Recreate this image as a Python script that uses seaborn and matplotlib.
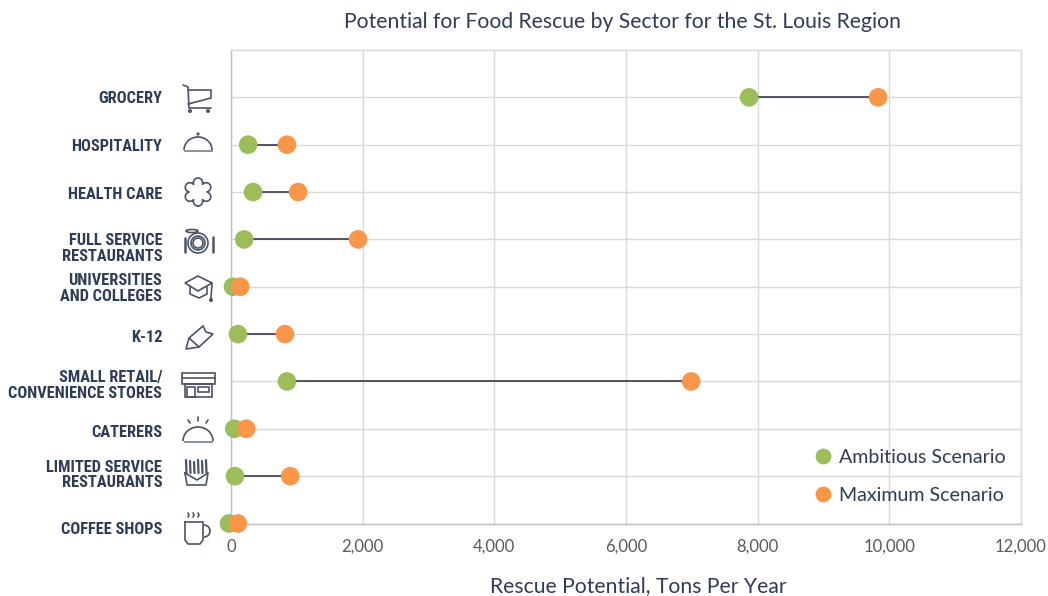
import numpy as np
import pandas as pd
import seaborn as sns
import matplotlib
matplotlib.use("Agg")
import matplotlib.pyplot as plt
from matplotlib import font_manager as fm
from matplotlib.patches import Arc, Circle, Polygon, Rectangle, Ellipse
from matplotlib.transforms import ScaledTranslation

sectors = ["GROCERY", "HOSPITALITY", "HEALTH CARE", "FULL SERVICE\nRESTAURANTS",
           "UNIVERSITIES\nAND COLLEGES", "K-12", "SMALL RETAIL/\nCONVENIENCE STORES",
           "CATERERS", "LIMITED SERVICE\nRESTAURANTS", "COFFEE SHOPS"]
ambitious = [7870, 260, 335, 200, 30, 105, 850, 50, 60, -30]
maximum = [9830, 850, 1020, 1930, 140, 820, 6990, 230, 900, 105]
label_shift_px = [0, 0, 1, 7, 0, 2, 2, 2, -3, 4]

GREEN, ORANGE = "#9BBD5A", "#F9964A"
NAVY, GREY, ICON = "#2D3C58", "#595959", "#4A5468"

names = {f.name for f in fm.fontManager.ttflist}
narrow, narrow_size = "Roboto", 10.3
for cand, size in (("Roboto Condensed", 11.8), ("Liberation Sans Narrow", 11.8)):
    if cand in names:
        narrow, narrow_size = cand, size
        break

sns.set_theme(style="whitegrid")
plt.rcParams["font.family"] = ["Lato", "DejaVu Sans"]

df = pd.DataFrame({"sector": sectors, "Ambitious Scenario": ambitious, "Maximum Scenario": maximum})
long = df.melt("sector", var_name="scenario", value_name="tons")

W, H = 1048, 596
fig = plt.figure(figsize=(W / 100, H / 100), dpi=100)
ax = fig.add_axes([231 / W, 1 - 523.5 / H, 790 / W, 473.5 / H])

ax.hlines(df["sector"], df["Ambitious Scenario"], df["Maximum Scenario"],
          color="#2A2A3E", lw=1.1, zorder=2)
sns.scatterplot(data=long, x="tons", y="sector", hue="scenario",
                palette={"Ambitious Scenario": GREEN, "Maximum Scenario": ORANGE},
                s=180, linewidth=0, ax=ax, zorder=3, clip_on=False)

ax.set_xlim(0, 12000)
ax.set_ylim(9, -1)
ax.set_xticks(range(0, 12001, 2000))
ax.xaxis.set_major_formatter(matplotlib.ticker.FuncFormatter(lambda v, _: f"{int(v):,}"))
ax.set_yticks(range(10))
ax.grid(True, color="#D9D9D9", lw=1.0)
ax.set_axisbelow(True)
for s, sp in ax.spines.items():
    sp.set_color("#D9D9D9" if s in ("top", "right") else "#BFBFBF")
    sp.set_linewidth(1.0)
ax.tick_params(axis="x", length=0, pad=11, labelsize=12, labelcolor=GREY)
ax.tick_params(axis="y", length=0, pad=49.5)
ax.set_yticklabels(sectors, fontfamily=narrow, fontweight="bold", fontsize=narrow_size,
                   color=NAVY, linespacing=1.05, ha="right")
for lab, d in zip(ax.get_yticklabels(), label_shift_px):
    lab.set_transform(lab.get_transform() + ScaledTranslation(0, -d / 100, fig.dpi_scale_trans))

ax.set_ylabel("")
ax.set_xlabel("")
fig.text(638 / W, 1 - 586 / H, "Rescue Potential, Tons Per Year", ha="center", va="center",
         fontsize=15.2, color=NAVY)
fig.text(623 / W, 1 - 21.5 / H, "Potential for Food Rescue by Sector for the St. Louis Region",
         ha="center", va="center", fontsize=15.2, color=NAVY)

leg = ax.legend(loc="lower left", bbox_to_anchor=(0.7125, 0.021), frameon=False, title=None,
                fontsize=14.1, labelcolor=NAVY, markerscale=0.85, labelspacing=1.05,
                handletextpad=-0.2, borderpad=0)

# Sector pictograms, in pixel coordinates of the figure
ov = fig.add_axes([0, 0, 1, 1], zorder=5)
ov.set_xlim(0, W)
ov.set_ylim(H, 0)
ov.axis("off")
kw = dict(color=ICON, lw=1.2, solid_capstyle="round")
pk = dict(fill=False, edgecolor=ICON, lw=1.2)
def pl(*pts, **k):
    x, y = zip(*pts)
    ov.plot(x, y, **{**kw, **k})
def dot(x, y, r=2):
    ov.add_patch(Circle((x, y), r, color=ICON, lw=0))

# cart
pl((183, 85), (188, 87), (189, 108), (211, 108))
pl((188, 90), (211, 90), (211, 98), (188, 104))
dot(190, 111); dot(208, 111)
# cloche
ov.add_patch(Arc((198, 150), 28, 26, theta1=180, theta2=360, **pk))
ov.add_patch(Rectangle((184, 149.5), 29, 2.5, color="#8A93A3", lw=0))
dot(198, 134, 1.6)
# health cross
t = np.linspace(0, 2 * np.pi, 400)
r = 8.5 + 5.5 * np.abs(np.cos(3 * t)) ** 0.6
ov.plot(198 + r * np.sin(t), 192 + r * np.cos(t), color=ICON, lw=1.2)
# plate
for rad in (10, 7, 5):
    ov.add_patch(Circle((198, 243), rad, **pk))
pl((185, 238), (185, 252), lw=1.8)
pl((213, 237), (213, 252), lw=1.8)
ov.add_patch(Ellipse((192, 231), 12, 3, **pk))
# mortarboard
ov.add_patch(Polygon([(198, 276), (212, 283), (198, 291), (185, 283)], closed=True, **pk))
pl((190, 287), (190, 294), (199, 298), (207, 294), (207, 287))
pl((212, 283), (211, 298))
dot(211, 300)
# pencil
ov.add_patch(Polygon([(186, 349), (189, 338), (203, 326), (206, 332), (213, 334), (199, 347)],
                     closed=True, **pk))
pl((189, 338), (199, 347))
# shop
ov.add_patch(Rectangle((182, 373), 33, 11, **pk))
pl((182, 378), (215, 378))
ov.add_patch(Rectangle((185, 384), 27, 13, **pk))
ov.add_patch(Rectangle((187, 387), 8, 10, **pk))
ov.add_patch(Rectangle((198, 387), 11, 5, **pk))
# caterer cloche
ov.add_patch(Arc((198, 441), 30, 28, theta1=180, theta2=360, **pk))
ov.add_patch(Rectangle((184, 440.5), 29, 2.5, color="#8A93A3", lw=0))
pl((198, 417), (198, 421)); pl((188, 420), (190, 423)); pl((208, 420), (206, 423))
# fries
for fx, top in zip((186, 190, 194, 198, 202, 206), (460, 461, 462, 460, 461, 460)):
    pl((fx, top), (fx + 0.5, 473), lw=1.6)
pl((185, 473), (197, 480), (208, 473), (206, 485), (187, 485), (185, 473))
# mug
pl((185, 522), (185, 540), (188, 544), (200, 544), (203, 540), (203, 522), (185, 522))
ov.add_patch(Arc((204, 531), 12, 12, theta1=-90, theta2=90, **pk))
for sx in (188, 193, 198):
    pl((sx, 513), (sx + 1, 515), (sx, 517))

fig.savefig("out.png", dpi=100)
